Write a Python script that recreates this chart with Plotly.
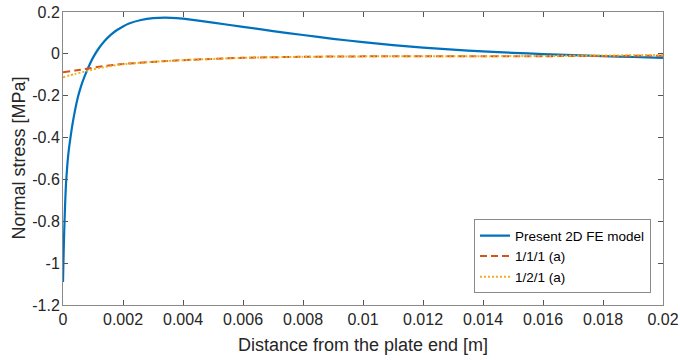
import plotly.graph_objects as go

# Blue: Present 2D FE model
fe_x = [0, 0.00002, 0.00004, 0.00007, 0.0001, 0.00015, 0.0002, 0.0003, 0.0004, 0.0005,
        0.0006, 0.0007, 0.0008, 0.0009, 0.001, 0.0012, 0.0014, 0.0016, 0.0018, 0.002,
        0.0022, 0.0026, 0.003, 0.0034, 0.0038, 0.004, 0.005, 0.006, 0.007, 0.008, 0.009,
        0.01, 0.011, 0.012, 0.013, 0.014, 0.015, 0.016, 0.017, 0.018, 0.019, 0.02]
fe_y = [-1.09, -0.96, -0.85, -0.72, -0.62, -0.52, -0.45, -0.35, -0.27, -0.205,
        -0.155, -0.115, -0.08, -0.047, -0.018, 0.028, 0.064, 0.092, 0.114, 0.131,
        0.145, 0.162, 0.171, 0.173, 0.171, 0.168, 0.149, 0.129, 0.109, 0.090, 0.072,
        0.056, 0.042, 0.030, 0.020, 0.012, 0.005, -0.001, -0.006, -0.011, -0.015, -0.019]

# Red dashed: 1/1/1 (a)
a111_x = [0, 0.0004, 0.0008, 0.0012, 0.0016, 0.002, 0.0027, 0.0035, 0.0043, 0.006,
          0.008, 0.01, 0.012, 0.014, 0.016, 0.018, 0.02]
a111_y = [-0.088, -0.080, -0.071, -0.062, -0.054, -0.048, -0.041, -0.034, -0.028, -0.019,
          -0.014, -0.012, -0.011, -0.011, -0.011, -0.010, -0.009]

# Yellow dotted: 1/2/1 (a)
a121_x = [0, 0.0004, 0.0008, 0.0012, 0.0016, 0.002, 0.0027, 0.0035, 0.0043, 0.006,
          0.008, 0.01, 0.012, 0.014, 0.016, 0.018, 0.02]
a121_y = [-0.112, -0.096, -0.082, -0.068, -0.058, -0.050, -0.041, -0.034, -0.028, -0.019,
          -0.014, -0.012, -0.011, -0.011, -0.010, -0.008, -0.005]

x_ticks = [0, 0.002, 0.004, 0.006, 0.008, 0.01, 0.012, 0.014, 0.016, 0.018, 0.02]
x_tick_text = ["0", "0.002", "0.004", "0.006", "0.008", "0.01", "0.012", "0.014", "0.016", "0.018", "0.02"]
y_ticks = [0.2, 0, -0.2, -0.4, -0.6, -0.8, -1, -1.2]
y_tick_text = ["0.2", "0", "-0.2", "-0.4", "-0.6", "-0.8", "-1", "-1.2"]

FONT = "Liberation Sans, Arial, sans-serif"
TXT = "#262626"

fig = go.Figure()
fig.add_trace(go.Scatter(x=fe_x, y=fe_y, mode="lines", name="Present 2D FE model",
                         line=dict(color="#0072BD", width=2.2, shape="spline", smoothing=0.5)))
fig.add_trace(go.Scatter(x=a111_x, y=a111_y, mode="lines", name="1/1/1 (a)",
                         line=dict(color="#D95319", width=2, dash="7px,4px", shape="spline", smoothing=0.5)))
fig.add_trace(go.Scatter(x=a121_x, y=a121_y, mode="lines", name="1/2/1 (a)",
                         line=dict(color="#EDB120", width=2, dash="2px,2px", shape="spline", smoothing=0.5)))

axis_common = dict(showline=True, mirror="ticks", linecolor="#8a8a8a", linewidth=1,
                   ticks="inside", ticklen=5, tickcolor="#555555", showgrid=False, zeroline=False,
                   automargin=False,
                   tickfont=dict(family=FONT, size=16, color=TXT))

fig.update_xaxes(range=[0, 0.02], tickvals=x_ticks, ticktext=x_tick_text, **axis_common)
fig.update_yaxes(range=[-1.2, 0.2], tickvals=y_ticks, ticktext=y_tick_text,
                 ticklabelstandoff=-1, **axis_common)

fig.add_annotation(text="Distance from the plate end [m]", xref="paper", yref="paper",
                   x=0.5, y=-0.095, xanchor="center", yanchor="top", showarrow=False,
                   font=dict(family=FONT, size=18, color=TXT))
fig.add_annotation(text="Normal stress [MPa]", xref="paper", yref="paper",
                   x=-0.075, y=0.5, xanchor="center", yanchor="middle", textangle=-90, showarrow=False,
                   font=dict(family=FONT, size=18, color=TXT))

fig.update_layout(
    width=680, height=360,
    margin=dict(l=63, r=17, t=12, b=55),
    plot_bgcolor="white", paper_bgcolor="white",
    showlegend=True,
    legend=dict(x=0.98, y=0.04, xanchor="right", yanchor="bottom",
                bordercolor="#8a8a8a", borderwidth=1, bgcolor="white",
                font=dict(family=FONT, size=13.5, color="#000000"),
                tracegroupgap=0, itemwidth=30),
)

fig.write_html("out.html", config={"displayModeBar": False},
               post_script="document.body.style.margin='0';")
